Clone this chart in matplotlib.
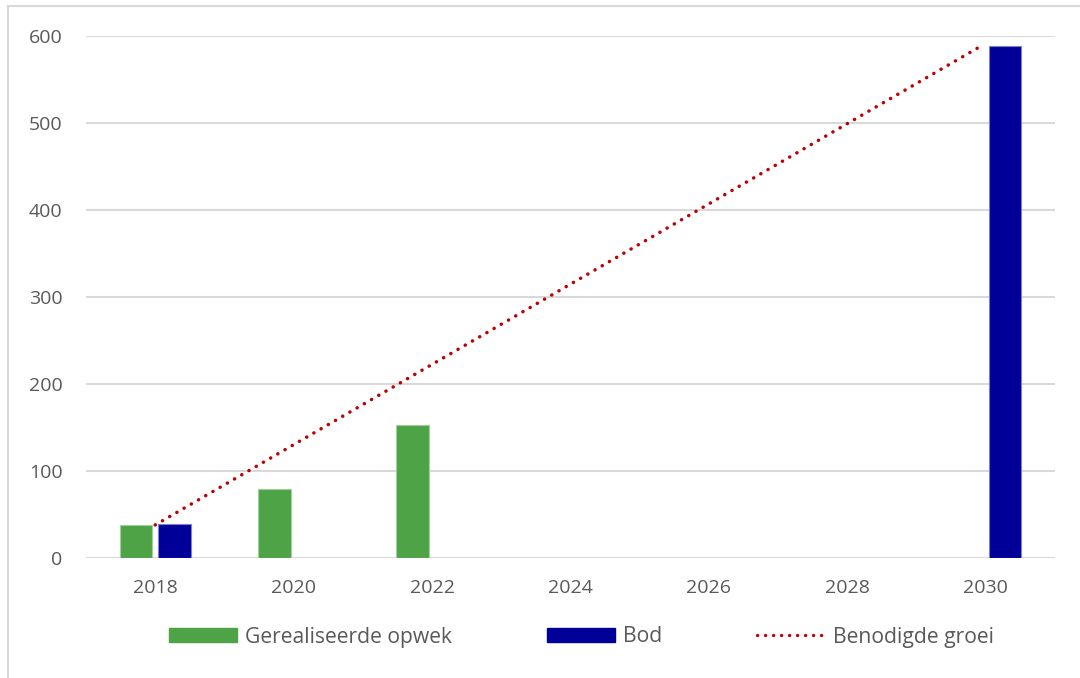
import matplotlib
matplotlib.use("Agg")
import matplotlib.pyplot as plt
from matplotlib.lines import Line2D
import numpy as np

years = ["2018", "2020", "2022", "2024", "2026", "2028", "2030"]
gerealiseerd = [38, 79, 153, 0, 0, 0, 0]
bod = [39, 0, 0, 0, 0, 0, 589]
benodigd = [38, 130, 221, 313, 404, 496, 587]

plt.rcParams['font.family'] = ['Open Sans', 'DejaVu Sans']
txt = '#595959'

W, H = 1080, 678
fig = plt.figure(figsize=(W / 100, H / 100), dpi=100)
ax = fig.add_axes([86 / W, 1 - 558 / H, (1055 - 86) / W, (558 - 36) / H])

x = np.arange(len(years))
bw = 0.235
gmask = [v > 0 for v in gerealiseerd]
bmask = [v > 0 for v in bod]
ax.bar(x[gmask] - 0.14, np.array(gerealiseerd)[gmask], width=bw, color='#4ea346',
       edgecolor='#9fd19a', linewidth=0.8, zorder=3)
ax.bar(x[bmask] + 0.14, np.array(bod)[bmask], width=bw, color='#000099',
       edgecolor='#8080d0', linewidth=0.8, zorder=3)
dot = (0, (0.05, 2.35))
ax.plot(x[[0, -1]] + np.array([0, -0.05]), [benodigd[0], benodigd[-1]], color='#c00000',
        linestyle=dot, linewidth=2.5, dash_capstyle='round', zorder=4)

ax.set_xlim(-0.5, len(years) - 0.5)
ax.set_ylim(0, 600)
ax.set_yticks(range(0, 601, 100))
ax.set_xticks(x)
ax.set_xticklabels(years)
ax.yaxis.grid(True, color='#d9d9d9', linewidth=1.5)
ax.set_axisbelow(True)
for s in ax.spines.values():
    s.set_visible(False)
ax.tick_params(axis='both', length=0, labelsize=14, labelcolor=txt)
ax.tick_params(axis='y', pad=17)
ax.tick_params(axis='x', pad=15)

handles = [
    plt.Rectangle((0, 0), 1, 1, color='#4ea346'),
    plt.Rectangle((0, 0), 1, 1, color='#000099'),
    Line2D([0], [0], color='#c00000', linestyle=dot, linewidth=2.4, dash_capstyle='round'),
]
labels = ["Gerealiseerde opwek", "Bod", "Benodigde groei"]
fig.legend(handles, labels, loc='center', bbox_to_anchor=(0.5384, 1 - 637 / H), ncol=3,
           frameon=False, fontsize=15.2, labelcolor=txt, handlelength=3.22,
           handleheight=0.66, handletextpad=0.38, columnspacing=4.5)

# figure border (partially visible)
fig.add_artist(Line2D([8 / W, 1], [1 - 6 / H, 1 - 6 / H], transform=fig.transFigure,
                      color='#d9d9d9', linewidth=1.5))
fig.add_artist(Line2D([8 / W, 8 / W], [0, 1 - 6 / H], transform=fig.transFigure,
                      color='#d9d9d9', linewidth=1.5))

fig.savefig("out.png", dpi=100)
